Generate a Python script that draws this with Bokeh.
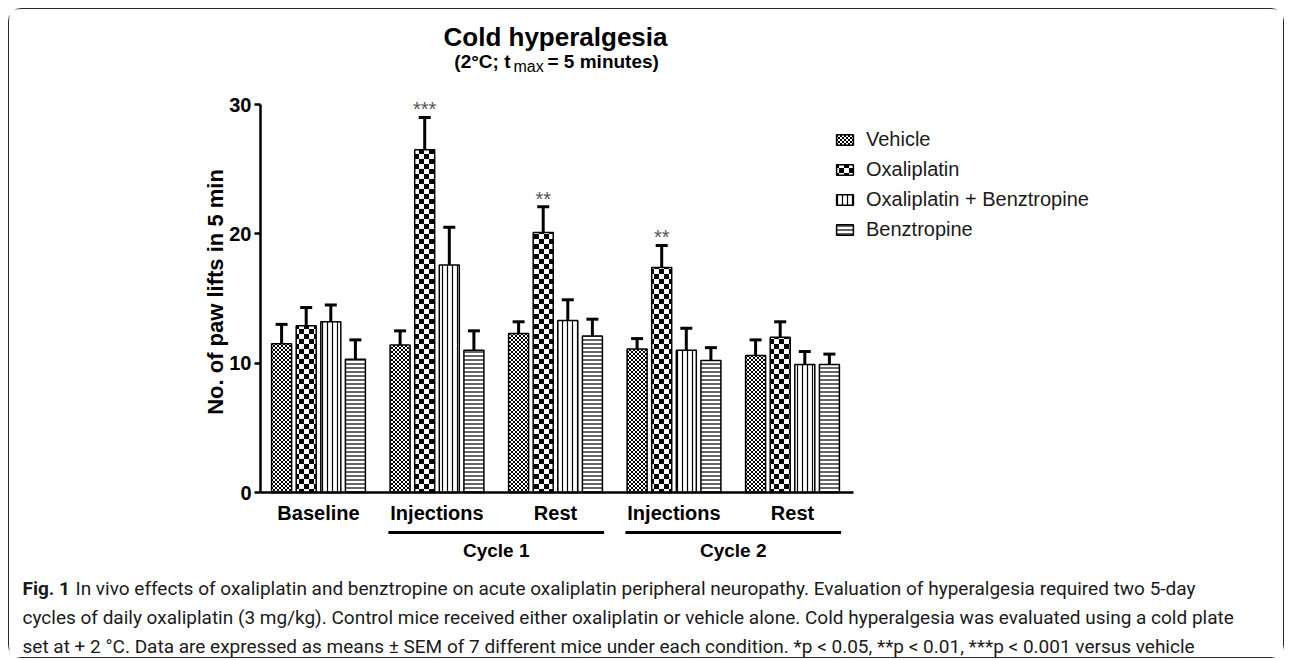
import base64
import math
from bokeh.plotting import figure
from bokeh.models import (ColumnDataSource, FixedTicker, Whisker, TeeHead, Legend,
                          LegendItem, Label, ImageURLTexture, Range1d)
from bokeh.core.properties import value
from bokeh.embed import file_html
from bokeh.resources import INLINE

# ---------------- data ----------------
groups = ["Baseline", "Injections", "Rest", "Injections", "Rest"]
cycles = ["Cycle 1", "Cycle 2"]
cycle_groups = [(1, 2), (3, 4)]
series = ["Vehicle", "Oxaliplatin", "Oxaliplatin + Benztropine", "Benztropine"]

vehicle = [11.5, 11.4, 12.3, 11.1, 10.6]
vehicle_sem = [1.5, 1.1, 0.9, 0.8, 1.2]
oxaliplatin = [12.9, 26.5, 20.1, 17.4, 12.0]
oxaliplatin_sem = [1.4, 2.5, 2.0, 1.7, 1.2]
oxali_benz = [13.2, 17.6, 13.3, 11.0, 9.9]
oxali_benz_sem = [1.3, 2.9, 1.6, 1.7, 1.0]
benztropine = [10.3, 11.0, 12.1, 10.2, 9.9]
benztropine_sem = [1.5, 1.5, 1.3, 1.0, 0.8]
oxali_sig = ["", "***", "**", "**", ""]

y_ticks = [0, 10, 20, 30]
y_label = "No. of paw lifts in 5 min"
title = "Cold hyperalgesia"
caption_head = "Fig. 1"
caption = [
    "In vivo effects of oxaliplatin and benztropine on acute oxaliplatin peripheral neuropathy. Evaluation of hyperalgesia required two 5-day",
    "cycles of daily oxaliplatin (3 mg/kg). Control mice received either oxaliplatin or vehicle alone. Cold hyperalgesia was evaluated using a cold plate",
    "set at + 2 \u00b0C. Data are expressed as means \u00b1 SEM of 7 different mice under each condition. *p < 0.05, **p < 0.01, ***p < 0.001 versus vehicle",
]

# ---------------- geometry helpers (page px -> data) ----------------
OFF = 9                      # page offset of canvas (margin + border)
PX_X = 118.5                 # px per group
PX_Y = 12.933                # px per unit
X0 = 318.0                   # page x of group 0
Y0 = 492.0                   # page y of value 0


def ax(a):
    return (a - X0) / PX_X


def ay(a):
    return (Y0 - a) / PX_Y


W, H = 1276, 650
x_start, x_end = ax(OFF), ax(OFF + W)
y_start, y_end = ay(OFF + H), ay(OFF)

FONT = "Liberation Sans"

p = figure(width=W, height=H, output_backend="svg", toolbar_location=None,
           x_range=Range1d(x_start, x_end), y_range=Range1d(y_start, y_end),
           min_border=0, outline_line_color=None, background_fill_color="white",
           border_fill_color="white")
p.styles = {"margin": "8px 0 0 8px", "border": "1px solid #2a2a2a",
            "border-radius": "13px"}
p.xgrid.visible = False
p.ygrid.visible = False

# ---------------- axes ----------------
xa = p.xaxis[0]
xa.fixed_location = 0
xa.ticker = FixedTicker(ticks=list(range(len(groups))))
xa.major_label_overrides = {i: g for i, g in enumerate(groups)}
xa.bounds = (ax(260), ax(853))
xa.major_tick_line_color = None
xa.minor_tick_line_color = None
xa.axis_line_width = 2.5
xa.axis_line_color = "black"
xa.major_label_standoff = 3
xa.major_label_text_font = FONT
xa.major_label_text_font_style = "bold"
xa.major_label_text_font_size = "20px"
xa.major_label_text_color = "black"

ya = p.yaxis[0]
ya.fixed_location = ax(260)
ya.ticker = FixedTicker(ticks=y_ticks)
ya.bounds = (0, 30)
ya.axis_line_width = 2.5
ya.axis_line_color = "black"
ya.major_tick_line_width = 2.5
ya.major_tick_out = 6
ya.major_tick_in = 0
ya.minor_tick_line_color = None
ya.major_label_standoff = 3
ya.major_label_text_font = FONT
ya.major_label_text_font_style = "bold"
ya.major_label_text_font_size = "20px"
ya.major_label_text_color = "black"

p.add_layout(Label(x=ax(215), y=ay(291.5), text=y_label, angle=math.pi / 2,
                   text_align="center", text_baseline="middle", text_font=FONT,
                   text_font_style="bold", text_font_size="22px", text_color="black"))


# ---------------- bars ----------------
def svg_tile(size, body):
    svg = ("<svg xmlns='http://www.w3.org/2000/svg' width='%d' height='%d'>"
           "<rect width='%d' height='%d' fill='white'/>%s</svg>") % (size, size, size, size, body)
    return "data:image/svg+xml;base64," + base64.b64encode(svg.encode()).decode()


def checker_tile(size):
    h = size // 2
    body = ("<rect width='%d' height='%d' fill='black'/>"
            "<rect x='%d' y='%d' width='%d' height='%d' fill='black'/>") % (h, h, h, h, h, h)
    return svg_tile(size, body)


textures = {
    "fine_checker": ImageURLTexture(url=checker_tile(4)),
    "coarse_checker": ImageURLTexture(url=checker_tile(10)),
}

values = [vehicle, oxaliplatin, oxali_benz, benztropine]
sems = [vehicle_sem, oxaliplatin_sem, oxali_benz_sem, benztropine_sem]
hatches = [("fine_checker", 4, 1), ("coarse_checker", 10, 1),
           ("vertical_line", 5, 1.2), ("horizontal_line", 4, 1.2)]
STEP = 24.6 / PX_X
BAR_W = 20.0 / PX_X
offsets = [(i - 1.5) * STEP for i in range(4)]

items = []
sources = []
for i, name in enumerate(series):
    xs = [g + offsets[i] for g in range(len(groups))]
    hi = [v + s for v, s in zip(values[i], sems[i])]
    src = ColumnDataSource(dict(x=xs, top=values[i], hi=hi))
    sources.append(src)
    pat, sc, wt = hatches[i]
    r = p.vbar(x="x", top="top", bottom=0, width=BAR_W, source=src,
               fill_color="white", line_color="black", line_width=1.5,
               hatch_pattern=value(pat), hatch_color="black", hatch_scale=sc,
               hatch_weight=wt, hatch_extra=textures)
    p.add_layout(Whisker(source=src, base="x", lower="top", upper="hi",
                         dimension="height", line_width=3, line_color="black",
                         upper_head=TeeHead(size=12, line_width=3, line_color="black"),
                         lower_head=None))
    items.append(LegendItem(label=name, renderers=[r]))

# significance marks
sig_x = [x for x, s in zip(sources[1].data["x"], oxali_sig) if s]
sig_y = [y for y, s in zip(sources[1].data["hi"], oxali_sig) if s]
sig_t = [s for s in oxali_sig if s]
p.text(x=sig_x, y=sig_y, text=sig_t, text_align="center", text_baseline="middle",
       y_offset=-8, text_font=value(FONT), text_font_size="20px", text_color="#555555")

# cycle brackets
cyc_x0 = [a - 0.41 for a, b in cycle_groups]
cyc_x1 = [b + 0.41 for a, b in cycle_groups]
cyc_mid = [(a + b) / 2 for a, b in cycle_groups]
p.segment(x0=cyc_x0, x1=cyc_x1, y0=[ay(532)] * 2, y1=[ay(532)] * 2,
          line_width=3, line_color="black")
p.text(x=cyc_mid, y=[ay(550)] * 2, text=cycles, text_align="center",
       text_baseline="middle", text_font=value(FONT), text_font_style="bold",
       text_font_size="19px", text_color="black")

# ---------------- legend ----------------
legend = Legend(items=items, location=(834 - OFF, OFF + H - 240.5), padding=0, margin=0,
                border_line_color=None, background_fill_alpha=0,
                label_text_font=FONT, label_text_font_size="20px",
                label_text_color="#1a1a1a", glyph_width=21, glyph_height=13,
                label_height=23, spacing=7, label_standoff=11)
p.add_layout(legend)


# ---------------- title ----------------
def lab(x, y, text, size, bold=False, align="left", font=FONT, color="black"):
    p.add_layout(Label(x=ax(x), y=ay(y), text=text, text_align=align,
                       text_baseline="middle", text_font=font,
                       text_font_style="bold" if bold else "normal",
                       text_font_size=size, text_color=color))


lab(555, 36, title, "26px", bold=True, align="center")
lab(510, 60.5, "(2\u00b0C; t", "19px", bold=True, align="right")
lab(513, 66, "max", "16px")
lab(547, 60.5, "= 5 minutes)", "19px", bold=True)

# ---------------- caption ----------------
CAP_FONT = "Roboto"
CAP_SIZE = "19px"
cap_mid = [588, 617, 646]
lab(22, cap_mid[0], caption_head, CAP_SIZE, bold=True, font=CAP_FONT, color="#1a1a1a")
for k, line in enumerate(caption):
    lab(75 if k == 0 else 22, cap_mid[k], line, CAP_SIZE, font=CAP_FONT, color="#1a1a1a")

open("out.html", "w").write(file_html(p, INLINE))
